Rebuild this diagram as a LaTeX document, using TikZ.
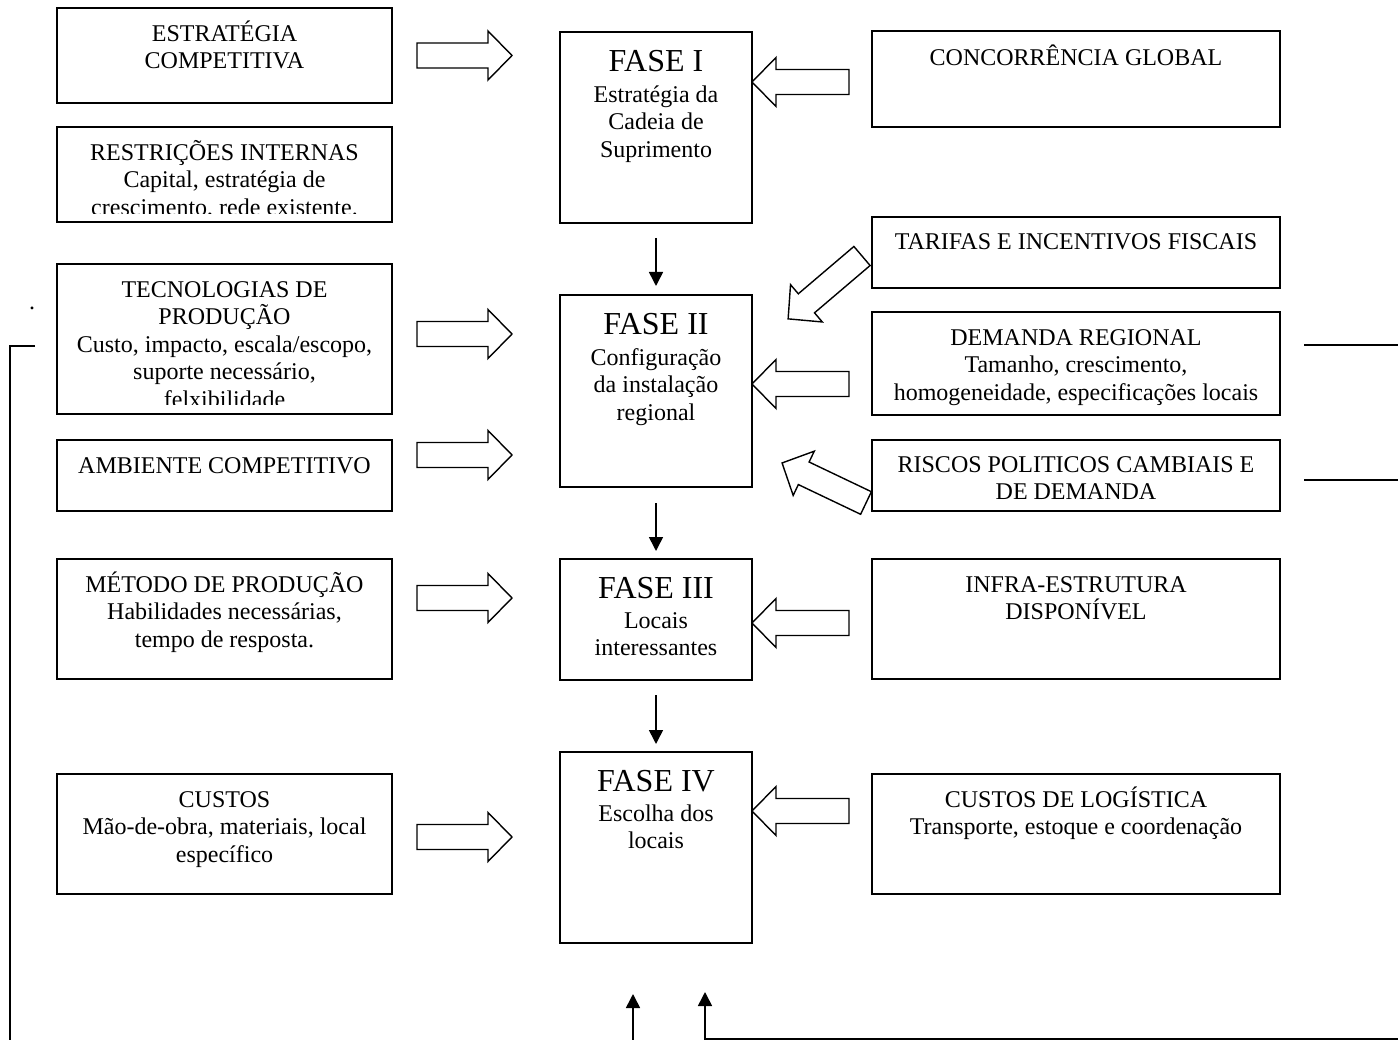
\documentclass[tikz,border=0pt]{standalone}
\usepackage{fontspec}
\setmainfont{Liberation Serif}
\usetikzlibrary{arrows.meta}
\newcommand\tst{\rule{0pt}{24pt}}
\newcommand\barrow[4]{\draw[barr,shift={(#1,#2)},rotate=#3] (0,12.5) -- ({#4-24},12.5) -- ({#4-24},24.5) -- (#4,0) -- ({#4-24},-24.5) -- ({#4-24},-12.5) -- (0,-12.5) -- cycle;}
\begin{document}
\begin{tikzpicture}[x=1pt,y=1pt,
  box/.style={draw, line width=1.6pt, inner sep=0pt, outer sep=0pt, anchor=north west},
  txt/.style={font=\fontsize{24}{27.6}\selectfont, align=center, inner sep=0pt, anchor=north},
  ttl/.style={font=\fontsize{32}{36.8}\selectfont, inner sep=0pt, anchor=base},
  barr/.style={draw, line width=1.4pt, line join=miter},
  arr/.style={line width=1.6pt, -{Triangle[length=14pt,width=14pt]}},
  ln/.style={line width=1.6pt}]
\useasboundingbox (0,0) rectangle (1398,-1040);
% left boxes
\node[box, minimum width=335pt, minimum height=95pt] (l1) at (57,-8) {};
\node[box, minimum width=335pt, minimum height=95pt] (l2) at (57,-127) {};
\node[box, minimum width=335pt, minimum height=150pt] (l3) at (57,-264) {};
\node[box, minimum width=335pt, minimum height=71pt] (l4) at (57,-440) {};
\node[box, minimum width=335pt, minimum height=120pt] (l5) at (57,-559) {};
\node[box, minimum width=335pt, minimum height=120pt] (l6) at (57,-774) {};
\node[txt] (l1t) at ([yshift=-9pt]l1.north) {\tst ESTRATÉGIA\\COMPETITIVA};
\begin{scope}
\clip (57,-127) rectangle (392,-214);
\node[txt] (l2t) at ([yshift=-9pt]l2.north) {\tst RESTRIÇÕES INTERNAS\\Capital, estratégia de\\crescimento, rede existente.};
\end{scope}
\begin{scope}
\clip (57,-264) rectangle (392,-405);
\node[txt] (l3t) at ([yshift=-9pt]l3.north) {\tst TECNOLOGIAS DE\\PRODUÇÃO\\Custo, impacto, escala/escopo,\\suporte necessário,\\felxibilidade};
\end{scope}
\node[txt] (l4t) at ([yshift=-9pt]l4.north) {\tst AMBIENTE COMPETITIVO};
\node[txt] (l5t) at ([yshift=-9pt]l5.north) {\tst MÉTODO DE PRODUÇÃO\\Habilidades necessárias,\\tempo de resposta.};
\node[txt] (l6t) at ([yshift=-9pt]l6.north) {\tst CUSTOS\\Mão-de-obra, materiais, local\\específico};
% phase boxes
\node[box, minimum width=192pt, minimum height=191pt] (f1) at (560,-32) {};
\node[box, minimum width=192pt, minimum height=192pt] (f2) at (560,-295) {};
\node[box, minimum width=192pt, minimum height=121pt] (f3) at (560,-559) {};
\node[box, minimum width=192pt, minimum height=191pt] (f4) at (560,-752) {};
\node[ttl] (f1h) at ([yshift=-40pt]f1.north) {FASE I};
\node[ttl] (f2h) at ([yshift=-40pt]f2.north) {FASE II};
\node[ttl] (f3h) at ([yshift=-39pt]f3.north) {FASE III};
\node[ttl] (f4h) at ([yshift=-39pt]f4.north) {FASE IV};
\node[txt] (f1t) at ([yshift=-46pt]f1.north) {\tst Estratégia da\\Cadeia de\\Suprimento};
\node[txt] (f2t) at ([yshift=-46pt]f2.north) {\tst Configuração\\da instalação\\regional};
\node[txt] (f3t) at ([yshift=-45pt]f3.north) {\tst Locais\\interessantes};
\node[txt] (f4t) at ([yshift=-45pt]f4.north) {\tst Escolha dos\\locais};
% right boxes
\node[box, minimum width=408pt, minimum height=96pt] (r1) at (872,-31) {};
\node[box, minimum width=408pt, minimum height=71pt] (r2) at (872,-217) {};
\node[box, minimum width=408pt, minimum height=103pt] (r3) at (872,-312) {};
\node[box, minimum width=408pt, minimum height=71pt] (r4) at (872,-440) {};
\node[box, minimum width=408pt, minimum height=120pt] (r5) at (872,-559) {};
\node[box, minimum width=408pt, minimum height=120pt] (r6) at (872,-774) {};
\node[txt] (r1t) at ([yshift=-10pt]r1.north) {\tst CONCORRÊNCIA GLOBAL};
\node[txt] (r2t) at ([yshift=-8pt]r2.north) {\tst TARIFAS E INCENTIVOS FISCAIS};
\node[txt] (r3t) at ([yshift=-9pt]r3.north) {\tst DEMANDA REGIONAL\\Tamanho, crescimento,\\homogeneidade, especificações locais};
\node[txt] (r4t) at ([yshift=-8pt]r4.north) {\tst RISCOS POLITICOS CAMBIAIS E\\DE DEMANDA};
\node[txt] (r5t) at ([yshift=-9pt]r5.north) {\tst INFRA-ESTRUTURA\\DISPONÍVEL};
\node[txt] (r6t) at ([yshift=-9pt]r6.north) {\tst CUSTOS DE LOGÍSTICA\\Transporte, estoque e coordenação};
% stray dot
\node[txt, anchor=base] (dot) at (32,-310) {.};
% block arrows
\barrow{417}{-55.5}{0}{95}
\barrow{417}{-334}{0}{95}
\barrow{417}{-455}{0}{95}
\barrow{417}{-598}{0}{95}
\barrow{417}{-837}{0}{95}
\barrow{849}{-82}{180}{97}
\barrow{849}{-384}{180}{97}
\barrow{849}{-623}{180}{97}
\barrow{849}{-811}{180}{97}
\barrow{862}{-256}{220.4}{97}
\barrow{866}{-503}{154.5}{93}
% phase arrows
\draw[arr, shorten <=15pt, shorten >=9pt] (f1.south) -- (f2.north);
\draw[arr, shorten <=16pt, shorten >=8pt] (f2.south) -- (f3.north);
\draw[arr, shorten <=15pt, shorten >=8pt] (f3.south) -- (f4.north);
% feedback lines
\coordinate (la) at (35,-346);
\coordinate (lb) at (10,-346);
\coordinate (lc) at (10,-1040);
\draw[ln] (la) -- (lb) -- (lc);
\coordinate (ra1) at (1304,-345);
\coordinate (ra2) at (1398,-345);
\coordinate (rb1) at (1304,-480);
\coordinate (rb2) at (1398,-480);
\draw[ln] (ra1) -- (ra2);
\draw[ln] (rb1) -- (rb2);
\coordinate (ba) at (633,-1040);
\coordinate (bat) at (633,-994);
\draw[arr] (ba) -- (bat);
\coordinate (bb) at (1398,-1039);
\coordinate (bbc) at (705,-1039);
\coordinate (bbt) at (705,-992);
\draw[arr] (bb) -- (bbc) -- (bbt);
\end{tikzpicture}
\end{document}
